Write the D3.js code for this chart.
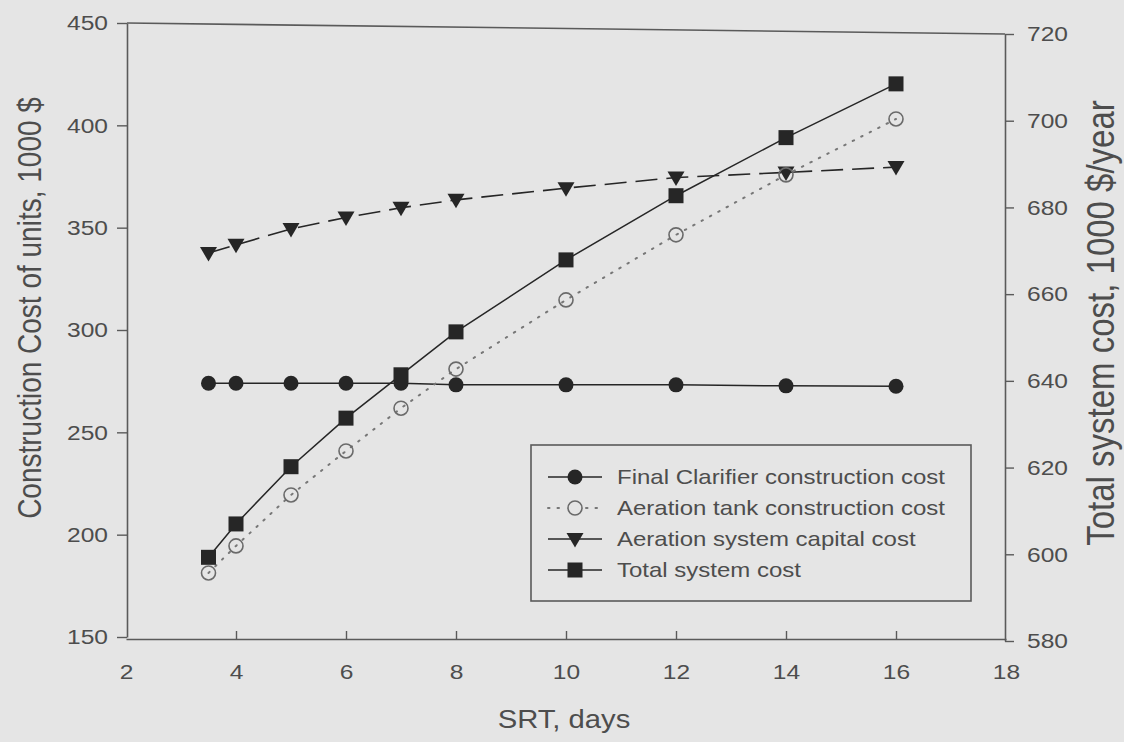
<!DOCTYPE html>
<html>
<head>
<meta charset="utf-8">
<script src="https://cdn.jsdelivr.net/npm/d3@7"></script>
<style>
  html, body { margin: 0; padding: 0; background: #e5e5e5; }
  svg { display: block; font-family: "Liberation Sans", Arial, Helvetica, sans-serif; }
  .tick text, .wide { transform-box: fill-box; transform-origin: center; transform: scaleX(1.17); }
  .legend-text { transform-box: fill-box; transform-origin: 0% 50%; transform: scaleX(1.2); }
</style>
</head>
<body>
<svg id="chart" width="1124" height="742"></svg>
<script>
// SRT (days) at which each unit was sized
const srt = [3.5, 4, 5, 6, 7, 8, 10, 12, 14, 16];

// Construction costs of units, 1000 $ (left axis)
const clarifierCost = [274.0, 274.0, 274.0, 274.0, 274.0, 273.2, 273.2, 273.2, 272.7, 272.5];
const tankCost      = [181.3, 194.5, 219.4, 240.9, 261.8, 280.9, 314.7, 346.5, 375.8, 403.1];
const aerationCost  = [337.6, 341.6, 349.4, 355.0, 359.7, 363.6, 369.3, 374.5, 377.0, 379.6];

// Total system cost, 1000 $/year (right axis)
const totalCost     = [599.3, 607.0, 620.2, 631.4, 641.4, 651.3, 667.9, 682.7, 696.1, 708.5];

// Axis ticks
const xTicks = [2, 4, 6, 8, 10, 12, 14, 16, 18];
const leftTicks = [150, 200, 250, 300, 350, 400, 450];
const rightTicks = [580, 600, 620, 640, 660, 680, 700, 720];

const legendLabels = [
  "Final Clarifier construction cost",
  "Aeration tank construction cost",
  "Aeration system capital cost",
  "Total system cost"
];

const ink = "#262626";
const axisInk = "#5a5a5a";
const textInk = "#4d4d4d";
const paper = "#e5e5e5";

const svg = d3.select("#chart");

const x = d3.scaleLinear().domain([2, 18]).range([126, 1006]);
const yL = d3.scaleLinear().domain([150, 450]).range([637, 23]);
const yR = d3.scaleLinear().domain([580, 720]).range([641, 34]);

// Axes
const gx = svg.append("g")
  .attr("transform", "translate(0,639)")
  .call(d3.axisBottom(x).tickValues(xTicks).tickSizeInner(-8).tickSizeOuter(0).tickPadding(25));
const gl = svg.append("g")
  .attr("transform", "translate(127,0)")
  .call(d3.axisLeft(yL).tickValues(leftTicks).tickSizeInner(10).tickSizeOuter(0).tickPadding(12));
const gr = svg.append("g")
  .attr("transform", "translate(1005,0)")
  .call(d3.axisRight(yR).tickValues(rightTicks).tickSizeInner(9).tickSizeOuter(0).tickPadding(16));

[gx, gl, gr].forEach(g => {
  g.selectAll("path.domain").attr("stroke", axisInk).attr("stroke-width", 1.6);
  g.selectAll(".tick line").attr("stroke", axisInk).attr("stroke-width", 1.4);
  g.selectAll(".tick text").attr("fill", textInk).style("font-size", "21px");
});
gx.selectAll(".tick line").filter(d => d === 2 || d === 18).remove();

// Top frame line joining the two value axes
svg.append("line")
  .attr("x1", 127).attr("y1", yL(450))
  .attr("x2", 1005).attr("y2", yR(720))
  .attr("stroke", axisInk).attr("stroke-width", 1.6);

// Axis titles
svg.append("text")
  .attr("class", "wide")
  .attr("x", 564).attr("y", 728)
  .attr("text-anchor", "middle")
  .attr("fill", textInk)
  .style("font-size", "25px")
  .text("SRT, days");

svg.append("g")
  .attr("transform", "translate(41,308) scale(1.17,1)")
  .append("text")
  .attr("transform", "rotate(-90)")
  .attr("text-anchor", "middle")
  .attr("fill", textInk)
  .style("font-size", "28px")
  .text("Construction Cost of units, 1000 $");

svg.append("g")
  .attr("transform", "translate(1114,323) scale(1.17,1)")
  .append("text")
  .attr("transform", "rotate(-90)")
  .attr("text-anchor", "middle")
  .attr("fill", textInk)
  .style("font-size", "33px")
  .text("Total system cost, 1000 $/year");

// Series definitions
const series = [
  { values: clarifierCost, y: yL, marker: "circle", dash: null, lineColor: ink, lineWidth: 1.5 },
  { values: aerationCost, y: yL, marker: "triangle", dash: "22,9", lineColor: ink, lineWidth: 1.6 },
  { values: tankCost, y: yL, marker: "open", dash: "1.5,8", lineColor: "#777", lineWidth: 2 },
  { values: totalCost, y: yR, marker: "square", dash: null, lineColor: ink, lineWidth: 1.5 }
];

function drawMarker(g, type, cx, cy) {
  if (type === "circle") {
    g.append("circle").attr("cx", cx).attr("cy", cy).attr("r", 7.5).attr("fill", ink);
  } else if (type === "open") {
    g.append("circle").attr("cx", cx).attr("cy", cy).attr("r", 7)
      .attr("fill", "none").attr("stroke", "#6a6a6a").attr("stroke-width", 1.6);
  } else if (type === "square") {
    g.append("rect").attr("x", cx - 7.5).attr("y", cy - 7.5).attr("width", 15).attr("height", 15).attr("fill", ink);
  } else if (type === "triangle") {
    g.append("path")
      .attr("d", `M${cx - 8.5},${cy - 6} L${cx + 8.5},${cy - 6} L${cx},${cy + 8.5} Z`)
      .attr("fill", ink);
  }
}

const plot = svg.append("g");
series.forEach(s => {
  const line = d3.line().x((d, i) => x(srt[i])).y(d => s.y(d));
  plot.append("path")
    .datum(s.values)
    .attr("d", line)
    .attr("fill", "none")
    .attr("stroke", s.lineColor)
    .attr("stroke-width", s.lineWidth)
    .attr("stroke-linecap", s.marker === "open" ? "round" : "butt")
    .attr("stroke-dasharray", s.dash);
});
series.forEach(s => {
  const g = plot.append("g");
  s.values.forEach((v, i) => drawMarker(g, s.marker, x(srt[i]), s.y(v)));
});

// Legend
const legend = svg.append("g");
legend.append("rect")
  .attr("x", 531).attr("y", 445).attr("width", 440).attr("height", 156)
  .attr("fill", "none").attr("stroke", axisInk).attr("stroke-width", 1.6);

const legendRows = [477, 508, 539, 570];
series.forEach((s, i) => {
  const cy = legendRows[i === 1 ? 2 : i === 2 ? 1 : i];
  const g = legend.append("g");
  g.append("line")
    .attr("x1", 548).attr("x2", 602).attr("y1", cy).attr("y2", cy)
    .attr("stroke", s.lineColor).attr("stroke-width", s.lineWidth)
    .attr("stroke-linecap", s.marker === "open" ? "round" : "butt")
    .attr("stroke-dasharray", s.marker === "open" ? "1.5,8" : null);
  if (s.marker === "open") {
    g.append("rect").attr("x", 566).attr("y", cy - 9).attr("width", 18).attr("height", 18).attr("fill", paper);
  }
  drawMarker(g, s.marker, 575, cy);
});
legendLabels.forEach((t, i) => {
  legend.append("text")
    .attr("class", "legend-text")
    .attr("x", 617).attr("y", legendRows[i] + 7)
    .attr("fill", textInk)
    .style("font-size", "20px")
    .text(t);
});
</script>
</body>
</html>
